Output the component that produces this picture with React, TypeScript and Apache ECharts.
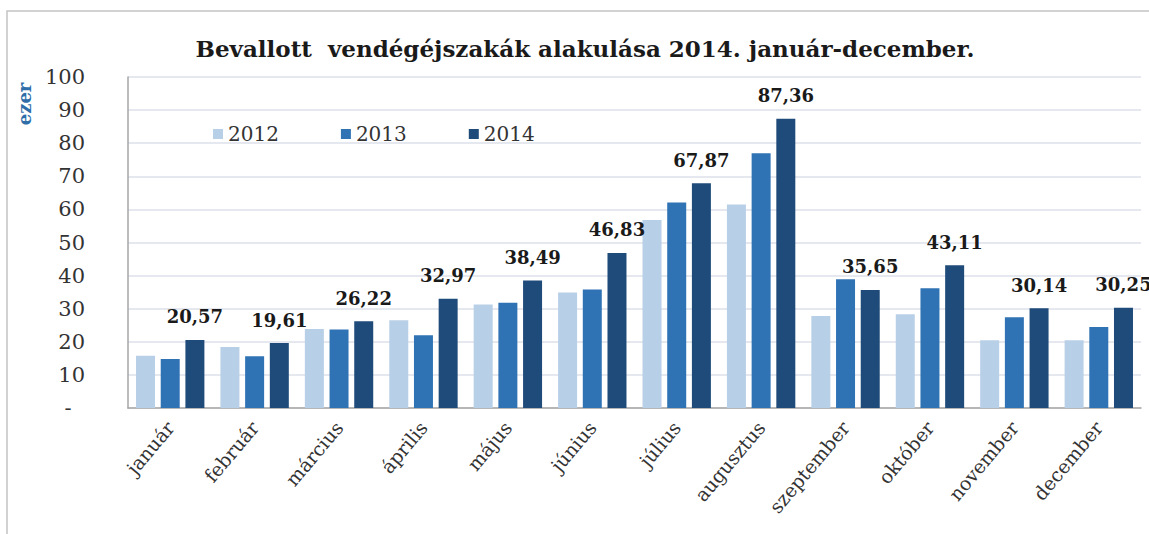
import React, { useEffect, useRef } from "react";
import * as echarts from "echarts";

const months = ["január", "február", "március", "április", "május", "június", "július", "augusztus", "szeptember", "október", "november", "december"];
const seriesNames = ["2012", "2013", "2014"];
const values2012 = [15.8, 18.4, 23.9, 26.5, 31.3, 34.9, 56.8, 61.5, 27.8, 28.3, 20.5, 20.5];
const values2013 = [14.8, 15.6, 23.7, 22.0, 31.8, 35.8, 62.1, 77.0, 38.9, 36.2, 27.4, 24.5];
const values2014 = [20.57, 19.61, 26.22, 32.97, 38.49, 46.83, 67.87, 87.36, 35.65, 43.11, 30.14, 30.25];
const yTicks = { min: 0, max: 100, interval: 10 };
const colors = ["#b7cfe7", "#2f73b5", "#1f4b7a"];
const titleText = "Bevallott  vendégéjszakák alakulása 2014. január-december.";
const unitText = "ezer";

const serif = "'DejaVu Serif', serif";

export default function App() {
  const ref = useRef<HTMLDivElement>(null);
  useEffect(() => {
    if (!ref.current) return;
    const chart = echarts.init(ref.current, null, { renderer: "svg" });
    const data = [values2012, values2013, values2014];
    chart.setOption({
      animation: false,
      backgroundColor: "#ffffff",
      title: {
        text: titleText,
        left: 580,
        textAlign: "center",
        top: 32,
        textStyle: { fontFamily: serif, fontWeight: "bold", fontSize: 23, color: "#1a1a1a" },
      },
      legend: {
        data: seriesNames,
        left: 208,
        top: 119,
        itemWidth: 10,
        itemHeight: 10,
        itemGap: 62,
        icon: "rect",
        textStyle: { fontFamily: serif, fontSize: 20, color: "#333" },
      },
      grid: { left: 128, right: 8, top: 77, bottom: 126, containLabel: false },
      xAxis: {
        type: "category",
        data: months,
        axisTick: { show: false },
        axisLine: { lineStyle: { color: "#a6a6a6", width: 1.5 } },
        axisLabel: { rotate: 50, fontFamily: serif, fontSize: 19, color: "#333", margin: 16, interval: 0 },
      },
      yAxis: {
        type: "value",
        min: yTicks.min,
        max: yTicks.max,
        interval: yTicks.interval,
        axisLine: { show: true, lineStyle: { color: "#a6a6a6", width: 1.5 } },
        axisTick: { show: false },
        splitLine: { lineStyle: { color: "#dde1e8", width: 1.5 } },
        axisLabel: {
          fontFamily: serif,
          fontSize: 21,
          color: "#333",
          margin: 43,
          formatter: (v: number) => (v === 0 ? "-  " : String(v)),
        },
      },
      series: seriesNames.map((name, i) => ({
        name,
        type: "bar",
        data: data[i],
        barGap: "30%",
        barCategoryGap: "19%",
        itemStyle: { color: colors[i] },
        label:
          i === 2
            ? {
                show: true,
                position: "top",
                distance: 14,
                fontFamily: serif,
                fontWeight: "bold",
                fontSize: 18,
                color: "#1a1a1a",
                formatter: (p: any) => p.value.toFixed(2).replace(".", ","),
              }
            : { show: false },
      })),
      graphic: [
        {
          type: "rect",
          shape: { x: 7, y: 11, width: 1300, height: 700 },
          style: { fill: "none", stroke: "#c4c4c4", lineWidth: 1.5 },
          silent: true,
        },
        {
          type: "text",
          x: 24,
          y: 104,
          rotation: Math.PI / 2,
          style: {
            text: unitText,
            fontFamily: serif,
            fontWeight: "bold",
            fontSize: 18,
            fill: "#2f6ea8",
            align: "center",
            verticalAlign: "middle",
          },
        },
      ],
    });
    return () => chart.dispose();
  }, []);
  return <div ref={ref} style={{ position: "fixed", left: 0, top: 0, width: 1149, height: 534 }} />;
}
